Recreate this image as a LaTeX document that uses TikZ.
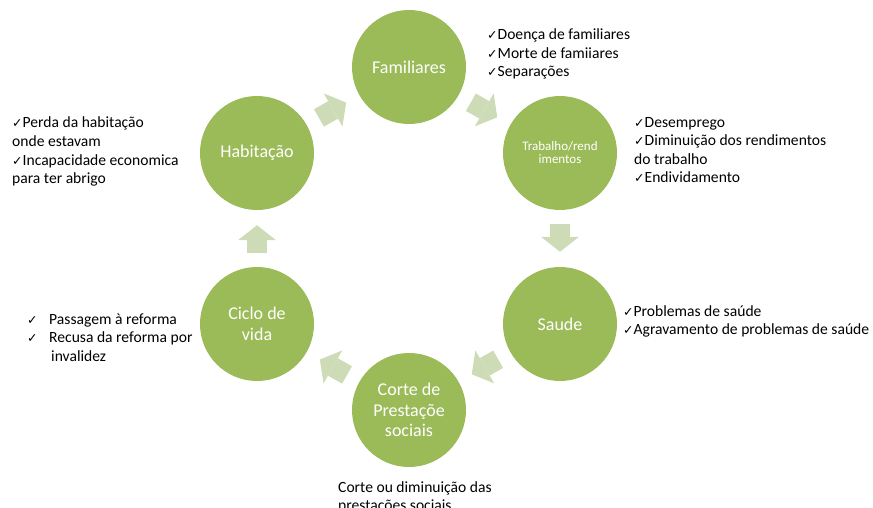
\documentclass[tikz,border=0pt]{standalone}
\usepackage{fontspec}
\setmainfont{Carlito}
\newfontfamily\symfont{DejaVu Sans}
\usetikzlibrary{arrows.meta}
\newcommand\chk{{\symfont\bfseries\fontsize{12.5}{12.5}\selectfont\char"2713}}
\definecolor{verde}{HTML}{9BBB59}
\definecolor{verdeclaro}{HTML}{CDDCB6}

\begin{document}
\begin{tikzpicture}[x=1pt,y=-1pt,
    causa/.style={
    % The shape:
    circle,minimum size=114pt,inner sep=0pt,
    % The rest
    fill=verde,text=white,align=center,
    font=\fontsize{18}{20.5}\selectfont},
    seta/.style={
    line width=20pt,draw=verdeclaro,
    shorten <=14pt,shorten >=15pt,
    -{Triangle[width=38pt,length=15pt,line width=0pt]}},
    lista/.style={anchor=base west,inner sep=0pt,align=left,
    font=\fontsize{15.6}{18.5}\selectfont}]
  \useasboundingbox (0,0) rectangle (873,508);
  \node (fam) [causa] at (409,67) {Familiares};
  \node (trab) [causa,font=\fontsize{13}{13}\selectfont] at (560,153) {Trabalho/rend\\imentos};
  \node (saude) [causa] at (560,324) {Saude};
  \node (corte) [causa] at (409,410) {Corte de\\Prestaçõe\\sociais};
  \node (ciclo) [causa] at (257,324) {Ciclo de\\vida};
  \node (hab) [causa] at (257,153) {Habitação};
  % ciclo
  \draw[seta] (hab) -- (fam);
  \draw[seta] (fam) -- (trab);
  \draw[seta] (trab) -- (saude);
  \draw[seta] (saude) -- (corte);
  \draw[seta] (corte) -- (ciclo);
  \draw[seta] (ciclo) -- (hab);
  % listas (base = last line)
  \node (fam-l) [lista] at (487,77) {\chk Doença de familiares\\\chk Morte de famiiares\\\chk Separações};
  \node (trab-l) [lista] at (634,182.5) {\chk Desemprego\\\chk Diminuição dos rendimentos\\do trabalho\\\chk Endividamento};
  \node (saude-l) [lista] at (623,334.5) {\chk Problemas de saúde\\\chk Agravamento de problemas de saúde};
  \node (corte-l) [lista] at (338,510.5) {Corte ou diminuição das\\prestações sociais};
  \node (ciclo-l) [lista] at (27,361) {\makebox[22pt][l]{\chk}Passagem à reforma\\\makebox[22pt][l]{\chk}Recusa da reforma por\\\hspace*{24pt}invalidez};
  \node (hab-l) [lista] at (12,183.5) {\chk Perda da habitação\\onde estavam\\\chk Incapacidade economica\\para ter abrigo};
\end{tikzpicture}
\end{document}
